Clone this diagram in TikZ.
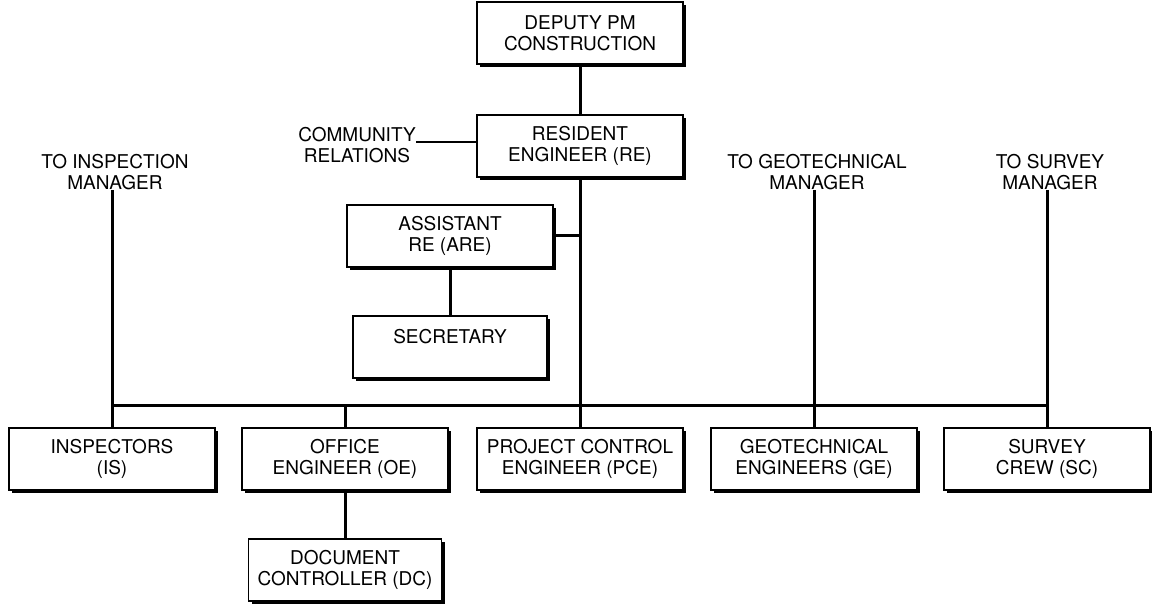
\documentclass[tikz,border=0pt]{standalone}
\usepackage{fontspec}
\setmainfont{TeX Gyre Heros}
\usetikzlibrary{shadows}
\newcommand{\orgfont}{\fontsize{19}{21}\selectfont}
\tikzset{
  box/.style={draw, line width=1.4pt, fill=white, minimum width=206pt,
    minimum height=62pt, align=center, inner sep=2pt, font=\orgfont,
    drop shadow={shadow xshift=3pt, shadow yshift=-3pt, fill=black, opacity=1}},
  tag/.style={align=center, inner sep=0pt, font=\orgfont},
  link/.style={line width=3pt},
  thinlink/.style={line width=1.4pt}
}

\begin{document}
\begin{tikzpicture}[x=1pt, y=-1pt]
    \useasboundingbox (0,0) rectangle (1152,604);
    % top of the chain
    \node[box] (dpm) at (580,33) {DEPUTY PM\\CONSTRUCTION};
    \node[box] (re) at (580,146) {RESIDENT\\ENGINEER (RE)};
    \node[tag] (com) at (357,145) {COMMUNITY\\RELATIONS};
    \node[box] (are) at (450,236) {ASSISTANT\\RE (ARE)};
    \node[box, minimum width=194pt] (sec) at (450,347) {SECRETARY\\~};
    % outside reporting lines
    \node[tag] (ti) at (115,172) {TO INSPECTION\\MANAGER};
    \node[tag] (tg) at (817,172) {TO GEOTECHNICAL\\MANAGER};
    \node[tag] (ts) at (1050,172) {TO SURVEY\\MANAGER};
    % field staff
    \coordinate (bus) at (580,405);
    \node[box] (isp) at (112,459) {INSPECTORS\\(IS)};
    \node[box] (oe) at (345,459) {OFFICE\\ENGINEER (OE)};
    \node[box] (pce) at (580,459) {PROJECT CONTROL\\ENGINEER (PCE)};
    \node[box] (ge) at (814,459) {GEOTECHNICAL\\ENGINEERS (GE)};
    \node[box] (sc) at (1047,459) {SURVEY\\CREW (SC)};
    \node[box, minimum width=193pt] (dc) at (345,570) {DOCUMENT\\CONTROLLER (DC)};

    \draw[link] (dpm.south) -- (re.north);
    \draw[link] (re.south) -- (pce.north);
    \draw[thinlink] ([yshift=4pt]re.west) -- ([yshift=4pt]re.west -| com.east);
    \draw[link] (are.east) -- (are.east -| re.south);
    \draw[link] (are.south) -- (sec.north);
    \draw[link] (isp.north |- bus) -- (sc.north |- bus);
    \draw[link] (ti.south -| isp.north) -- (isp.north);
    \draw[link] (oe.north |- bus) -- (oe.north);
    \draw[link] (tg.south -| ge.north) -- (ge.north);
    \draw[link] (ts.south -| sc.north) -- (sc.north);
    \draw[link] (oe.south) -- (dc.north);
\end{tikzpicture}
\end{document}
